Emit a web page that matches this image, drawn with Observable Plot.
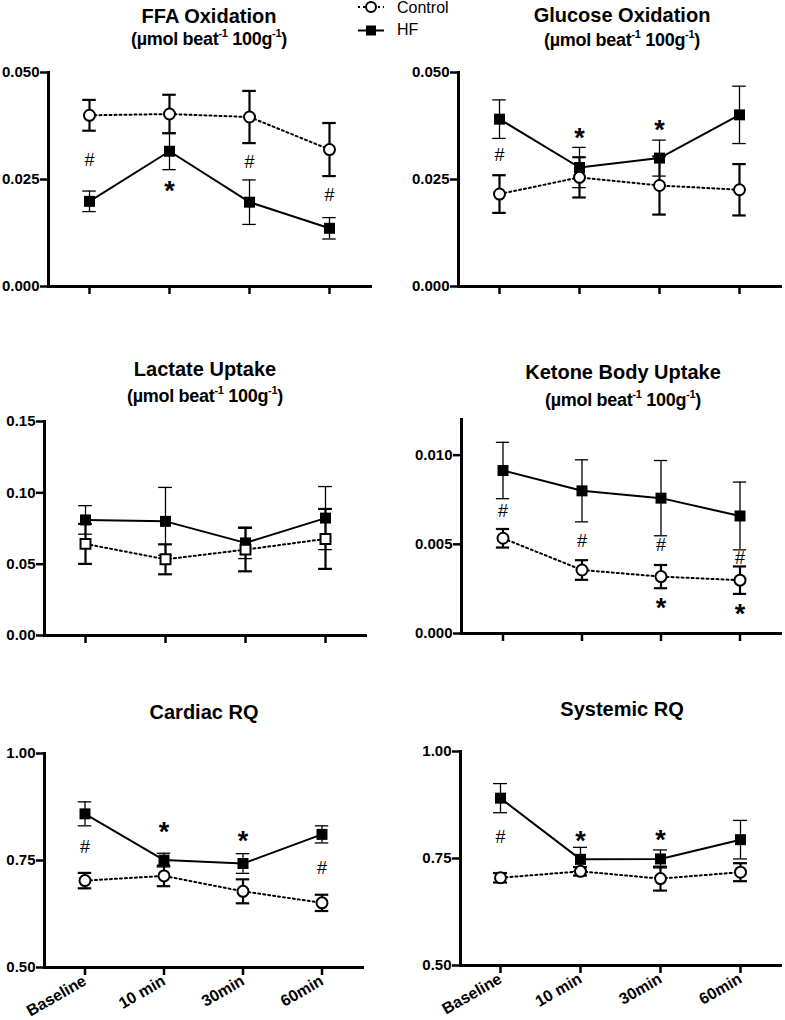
<!DOCTYPE html>
<html><head><meta charset="utf-8">
<script src="https://cdn.jsdelivr.net/npm/d3@7"></script>
<script src="https://cdn.jsdelivr.net/npm/@observablehq/plot@0.6"></script>
<style>
body{margin:0;background:#fff;}
#root{position:relative;width:785px;height:1020px;font-family:"Liberation Sans",Arial,Helvetica,sans-serif;color:#000;background:#fff;overflow:hidden;}
.title{position:absolute;transform:translateX(-50%);white-space:nowrap;font-weight:bold;font-size:20px;line-height:20px;}
.sub{position:absolute;transform:translateX(-50%);white-space:nowrap;font-weight:bold;font-size:18px;line-height:18px;letter-spacing:-0.3px;}
.sub sup{font-size:11px;line-height:0;position:relative;top:-1px;}
.panel{position:absolute;}
.legend{position:absolute;left:355px;top:0;}
</style>
</head><body><div id="root"></div>
<script>
// ---------- data ----------
const times = ["Baseline", "10 min", "30min", "60min"];

const ffaControl = [0.0400, 0.0403, 0.0396, 0.0320];
const ffaControlErr = [0.0036, 0.0045, 0.0061, 0.0062];
const ffaHF = [0.0199, 0.0316, 0.0197, 0.0136];
const ffaHFErr = [0.0024, 0.0043, 0.0052, 0.0025];

const gluControl = [0.0216, 0.0255, 0.0236, 0.0226];
const gluControlErr = [0.0044, 0.0047, 0.0068, 0.0060];
const gluHF = [0.0391, 0.0278, 0.0300, 0.0401];
const gluHFErr = [0.0045, 0.0047, 0.0042, 0.0067];

const lacControl = [0.0642, 0.0534, 0.0602, 0.0677];
const lacControlErr = [0.0140, 0.0105, 0.0152, 0.0210];
const lacHF = [0.0810, 0.0800, 0.0649, 0.0823];
const lacHFErr = [0.0100, 0.0238, 0.0110, 0.0221];

const ketControl = [0.00534, 0.00356, 0.00319, 0.00299];
const ketControlErr = [0.00052, 0.00055, 0.00065, 0.00077];
const ketHF = [0.00914, 0.00800, 0.00759, 0.00659];
const ketHFErr = [0.00158, 0.00174, 0.00211, 0.00190];

const crqControl = [0.703, 0.714, 0.678, 0.651];
const crqControlErr = [0.018, 0.024, 0.028, 0.019];
const crqHF = [0.859, 0.751, 0.743, 0.811];
const crqHFErr = [0.028, 0.016, 0.023, 0.020];

const srqControl = [0.705, 0.720, 0.703, 0.718];
const srqControlErr = [0.011, 0.010, 0.028, 0.021];
const srqHF = [0.891, 0.748, 0.749, 0.794];
const srqHFErr = [0.034, 0.028, 0.021, 0.045];

// significance marks: [time, y value, label]
const ffaMarks = [["Baseline", 0.0294, "#"], ["10 min", 0.0236, "*"], ["30min", 0.0290, "#"], ["60min", 0.0213, "#"]];
const gluMarks = [["Baseline", 0.0306, "#"], ["10 min", 0.0360, "*"], ["30min", 0.0380, "*"]];
const lacMarks = [];
const ketMarks = [["Baseline", 0.00687, "#"], ["10 min", 0.00519, "#"], ["30min", 0.00494, "#"], ["60min", 0.00420, "#"], ["30min", 0.00174, "*"], ["60min", 0.00140, "*"]];
const crqMarks = [["Baseline", 0.782, "#"], ["10 min", 0.829, "*"], ["30min", 0.808, "*"], ["60min", 0.7315, "#"]];
const srqMarks = [["Baseline", 0.800, "#"], ["10 min", 0.804, "*"], ["30min", 0.806, "*"]];

const unitsText = "(µmol beat<sup>-1</sup> 100g<sup>-1</sup>)";

// ---------- layout ----------
const panels = [
  {title: "FFA Oxidation", sub: true, tx: 209, tb: 23, sb: 45, c: ffaControl, ce: ffaControlErr, h: ffaHF, he: ffaHFErr, marks: ffaMarks,
   domain: [0, 0.05], ticks: [0, 0.025, 0.05], fmt: ".3f", left: 0, top: 62, width: 390, ml: 48, mr: 20, bottom: false, csym: "circle"},
  {title: "Glucose Oxidation", sub: true, tx: 622, tb: 22, sb: 46, c: gluControl, ce: gluControlErr, h: gluHF, he: gluHFErr, marks: gluMarks,
   domain: [0, 0.05], ticks: [0, 0.025, 0.05], fmt: ".3f", left: 390, top: 62, width: 395, ml: 68, mr: 5, bottom: false, csym: "circle"},
  {title: "Lactate Uptake", sub: true, tx: 205, tb: 376, sb: 402, c: lacControl, ce: lacControlErr, h: lacHF, he: lacHFErr, marks: lacMarks,
   domain: [0, 0.15], ticks: [0, 0.05, 0.10, 0.15], fmt: ".2f", left: 0, top: 411, width: 390, ml: 44, mr: 25, bottom: false, csym: "square"},
  {title: "Ketone Body Uptake", sub: true, tx: 623, tb: 379, sb: 406, c: ketControl, ce: ketControlErr, h: ketHF, he: ketHFErr, marks: ketMarks,
   domain: [0, 0.012], ticks: [0, 0.005, 0.010], fmt: ".3f", left: 390, top: 409, width: 395, ml: 71, mr: 5, bottom: false, csym: "circle"},
  {title: "Cardiac RQ", sub: false, tx: 204, tb: 719, c: crqControl, ce: crqControlErr, h: crqHF, he: crqHFErr, marks: crqMarks,
   domain: [0.5, 1.0], ticks: [0.5, 0.75, 1.0], fmt: ".2f", left: 0, top: 743, width: 390, ml: 44, mr: 28, bottom: true, csym: "circle"},
  {title: "Systemic RQ", sub: false, tx: 622, tb: 716, c: srqControl, ce: srqControlErr, h: srqHF, he: srqHFErr, marks: srqMarks,
   domain: [0.5, 1.0], ticks: [0.5, 0.75, 1.0], fmt: ".2f", left: 390, top: 741, width: 395, ml: 70, mr: 5, bottom: true, csym: "circle"}
];

const root = document.getElementById("root");
const FONT = '"Liberation Sans", Arial, Helvetica, sans-serif';

for (const p of panels) {
  const t = document.createElement("div");
  t.className = "title"; t.textContent = p.title;
  t.style.left = p.tx + "px"; t.style.top = (p.tb - 17) + "px";
  root.appendChild(t);
  if (p.sub) {
    const s = document.createElement("div");
    s.className = "sub"; s.innerHTML = unitsText;
    s.style.left = p.tx + "px"; s.style.top = (p.sb - 15) + "px";
    root.appendChild(s);
  }

  const rows = times.map((tm, i) => ({t: tm, c: p.c[i], ce: p.ce[i], h: p.h[i], he: p.he[i]}));
  const ann = p.marks.map(([tm, y, label]) => ({t: tm, y, label}));
  const bw = (p.width - p.ml - p.mr) / times.length;
  const cap = (bw - 14) / 2;
  const mb = p.bottom ? 62 : 22;

  const chart = Plot.plot({
    width: p.width,
    height: 10 + 214 + mb,
    marginTop: 10, marginBottom: mb, marginLeft: p.ml, marginRight: p.mr,
    style: {fontFamily: FONT, fontSize: "15px", background: "transparent", overflow: "visible", color: "#000"},
    x: {type: "band", domain: times, padding: 0, label: null, axis: null},
    y: {domain: p.domain, label: null, axis: null},
    marks: [
      Plot.axisY({ticks: p.ticks, tickFormat: d3.format(p.fmt), tickSize: 8, tickPadding: 1, strokeWidth: 2.5,
                  fontSize: 15, fontWeight: "bold", label: null}),
      Plot.axisX({tickSize: 8, strokeWidth: 2.5, tickPadding: 4,
                  tickFormat: p.bottom ? (d => d) : (() => ""), tickRotate: p.bottom ? -30 : 0,
                  fontSize: 16, fontWeight: "bold", label: null}),
      // HF series
      Plot.ruleX(rows, {x: "t", y1: d => d.h - d.he, y2: d => d.h + d.he, stroke: "black", strokeWidth: 1.3}),
      Plot.tickY(rows, {x: "t", y: d => d.h + d.he, insetLeft: cap, insetRight: cap, stroke: "black", strokeWidth: 1.3}),
      Plot.tickY(rows, {x: "t", y: d => d.h - d.he, insetLeft: cap, insetRight: cap, stroke: "black", strokeWidth: 1.3}),
      Plot.line(rows, {x: "t", y: "h", stroke: "black", strokeWidth: 2}),
      Plot.dot(rows, {x: "t", y: "h", symbol: "square", r: 6.2, fill: "black"}),
      // Control series
      Plot.ruleX(rows, {x: "t", y1: d => d.c - d.ce, y2: d => d.c + d.ce, stroke: "black", strokeWidth: 2.2}),
      Plot.tickY(rows, {x: "t", y: d => d.c + d.ce, insetLeft: cap, insetRight: cap, stroke: "black", strokeWidth: 2.2}),
      Plot.tickY(rows, {x: "t", y: d => d.c - d.ce, insetLeft: cap, insetRight: cap, stroke: "black", strokeWidth: 2.2}),
      Plot.line(rows, {x: "t", y: "c", stroke: "black", strokeWidth: 2, strokeDasharray: "2,3"}),
      Plot.dot(rows, {x: "t", y: "c", symbol: p.csym, r: p.csym === "square" ? 5.6 : 5.5, fill: "white", stroke: "black", strokeWidth: 2}),
      // significance marks
      Plot.text(ann.filter(d => d.label === "#"), {x: "t", y: "y", text: "label", fontSize: 18, fill: "black"}),
      Plot.text(ann.filter(d => d.label === "*"), {x: "t", y: "y", text: "label", fontSize: 27, fontWeight: "bold", dy: 6, fill: "black"}),
      // spines
      Plot.frame({anchor: "left", stroke: "black", strokeWidth: 3, strokeLinecap: "square"}),
      Plot.frame({anchor: "bottom", stroke: "black", strokeWidth: 3, strokeLinecap: "square"})
    ]
  });
  chart.classList.add("panel");
  chart.style.left = p.left + "px";
  chart.style.top = p.top + "px";
  root.appendChild(chart);
}

// ---------- legend ----------
const legendItems = [
  {name: "Control", y: 7, ty: 13, sym: "circle", dash: "2,3", fill: "white"},
  {name: "HF", y: 30.5, ty: 35, sym: "square", dash: null, fill: "black"}
];
const lg = d3.create("svg").attr("class", "legend").attr("width", 110).attr("height", 42)
  .style("font-family", FONT);
for (const it of legendItems) {
  const g = lg.append("g");
  g.append("line").attr("x1", 3).attr("x2", 29).attr("y1", it.y).attr("y2", it.y)
    .attr("stroke", "black").attr("stroke-width", 2).attr("stroke-dasharray", it.dash);
  if (it.sym === "circle") {
    g.append("circle").attr("cx", 16).attr("cy", it.y).attr("r", 5).attr("fill", it.fill).attr("stroke", "black").attr("stroke-width", 2);
  } else {
    g.append("rect").attr("x", 11).attr("y", it.y - 5).attr("width", 10).attr("height", 10).attr("fill", it.fill);
  }
  g.append("text").attr("x", 42).attr("y", it.ty).attr("font-size", 16).text(it.name);
}
root.appendChild(lg.node());
</script>
</body></html>
